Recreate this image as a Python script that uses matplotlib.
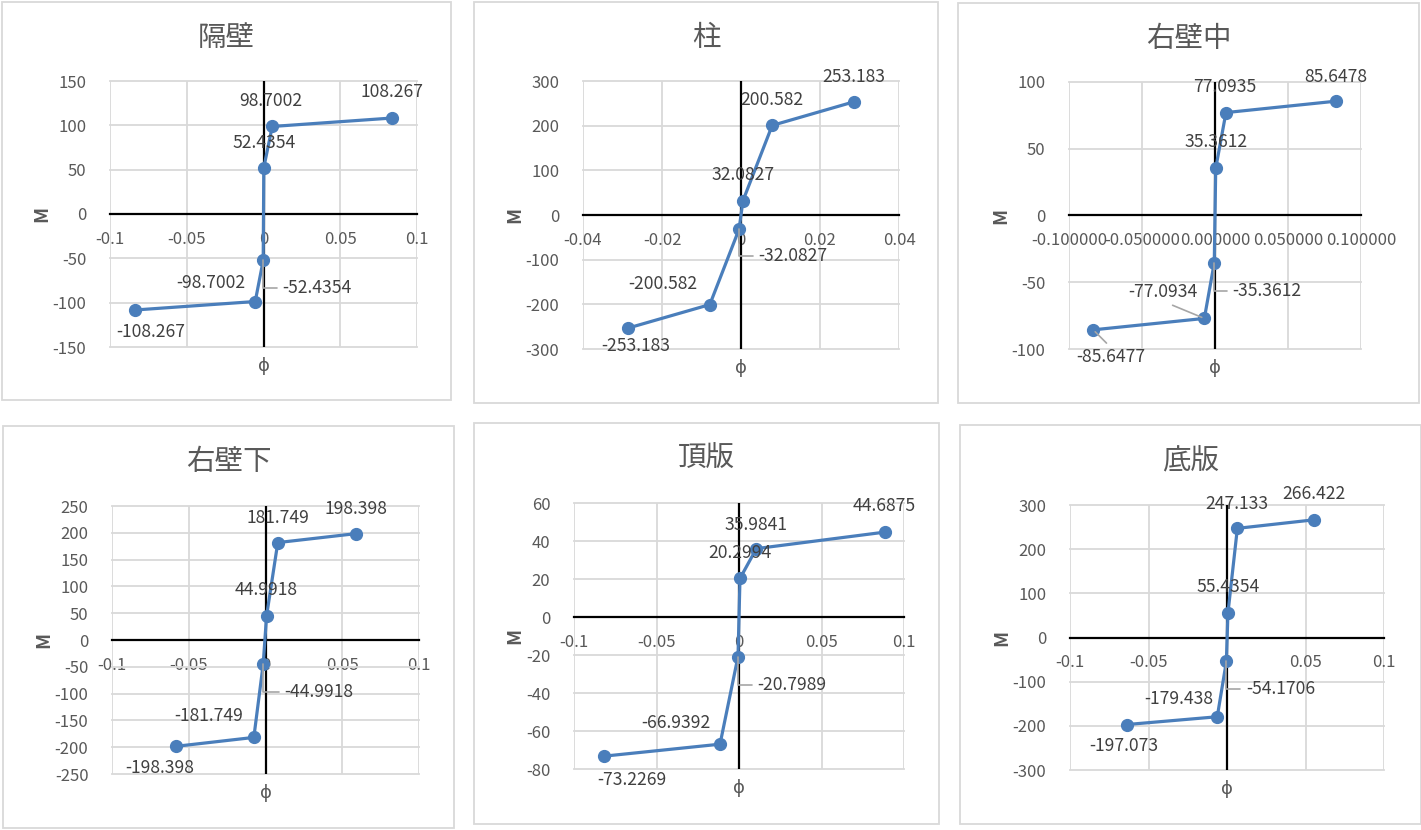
import matplotlib
matplotlib.use("Agg")
import matplotlib.pyplot as plt
from matplotlib.patches import Rectangle

plt.rcParams['font.family'] = ['Noto Sans CJK JP', 'DejaVu Sans']

# chart titles
titles = ["隔壁", "柱", "右壁中", "右壁下", "頂版", "底版"]

# curvature (phi)
phi_kabe = [-0.0837, -0.0054, -0.0002, 0.0002, 0.0057, 0.0839]
phi_hashira = [-0.0286, -0.0079, -0.0005, 0.0005, 0.0079, 0.0285]
phi_migichu = [-0.0834, -0.0073, -0.0005, 0.0005, 0.0075, 0.0830]
phi_migishita = [-0.0584, -0.0076, -0.0015, 0.0007, 0.0080, 0.0588]
phi_chouban = [-0.0816, -0.0115, -0.0006, 0.0006, 0.0105, 0.0885]
phi_teiban = [-0.0638, -0.0062, -0.0004, 0.0006, 0.0066, 0.0553]

# moment M (data labels)
m_kabe = [-108.267, -98.7002, -52.4354, 52.4354, 98.7002, 108.267]
m_hashira = [-253.183, -200.582, -32.0827, 32.0827, 200.582, 253.183]
m_migichu = [-85.6477, -77.0934, -35.3612, 35.3612, 77.0935, 85.6478]
m_migishita = [-198.398, -181.749, -44.9918, 44.9918, 181.749, 198.398]
m_chouban = [-73.2269, -66.9392, -20.7989, 20.2994, 35.9841, 44.6875]
m_teiban = [-197.073, -179.438, -54.1706, 55.4354, 247.133, 266.422]

# axis ticks
xticks_01 = [-0.1, -0.05, 0, 0.05, 0.1]
xticks_004 = [-0.04, -0.02, 0, 0.02, 0.04]
yticks_kabe = [-150, -100, -50, 0, 50, 100, 150]
yticks_300 = [-300, -200, -100, 0, 100, 200, 300]
yticks_migichu = [-100, -50, 0, 50, 100]
yticks_migishita = [-250, -200, -150, -100, -50, 0, 50, 100, 150, 200, 250]
yticks_chouban = [-80, -60, -40, -20, 0, 20, 40, 60]

phis = [phi_kabe, phi_hashira, phi_migichu, phi_migishita, phi_chouban, phi_teiban]
ms = [m_kabe, m_hashira, m_migichu, m_migishita, m_chouban, m_teiban]
xts = [xticks_01, xticks_004, xticks_01, xticks_01, xticks_01, xticks_01]
yts = [yticks_kabe, yticks_300, yticks_migichu, yticks_migishita, yticks_chouban, yticks_300]
xfmt = ["g", "g", ".6f", "g", "g", "g"]

W, H = 1421, 830
# chart boxes and plot areas in pixels (x0, y0, x1, y1) from top-left
boxes = [(2, 2, 451, 400), (474, 2, 938, 403), (958, 3, 1419, 403),
         (3, 426, 454, 828), (474, 423, 939, 824), (960, 425, 1421, 824)]
areas = [(110, 81, 417, 347), (583, 81, 899, 349), (1069, 82, 1361, 349),
         (112, 506, 419, 774), (574, 503, 904, 769), (1070, 505, 1384, 770)]

# label offsets in pixels (dx, dy) and leader style per point
offs = [
    [(16, -22, None), (-44, 19, None), (54, -28, "L"), (0, 25, None), (-1, 25, None), (0, 26, None)],
    [(8, -18, None), (-47, 21, None), (54, -27, "L"), (0, 26, None), (0, 25, None), (0, 25, None)],
    [(18, -27, "top"), (-41, 26, "bot"), (53, -28, "L"), (0, 26, None), (-1, 26, None), (0, 24, None)],
    [(-16, -22, None), (-45, 21, None), (56, -28, "L"), (0, 26, None), (0, 25, None), (0, 25, None)],
    [(28, -24, None), (-44, 21, None), (54, -28, "L"), (0, 25, None), (0, 24, None), (-1, 26, None)],
    [(-3, -21, None), (-39, 18, None), (54, -28, "L"), (0, 26, None), (0, 24, None), (0, 26, None)],
]

blue = '#4A7EBB'
grid_c = '#D9D9D9'
txt_c = '#595959'
lab_c = '#404040'
lead_c = '#A6A6A6'

fig = plt.figure(figsize=(W / 100, H / 100), dpi=100)

for i in range(6):
    bx = boxes[i]
    fig.patches.append(Rectangle((bx[0] / W, 1 - bx[3] / H), (bx[2] - bx[0]) / W, (bx[3] - bx[1]) / H,
                                 transform=fig.transFigure, fill=False, edgecolor=grid_c, lw=1.3))
    fig.text((bx[0] + bx[2]) / 2 / W, 1 - (bx[1] + 36) / H, titles[i], ha='center', va='center',
             fontsize=20.5, color=txt_c)

    a = areas[i]
    ax = fig.add_axes([a[0] / W, 1 - a[3] / H, (a[2] - a[0]) / W, (a[3] - a[1]) / H])
    xt, yt = xts[i], yts[i]
    ax.set_xlim(xt[0], xt[-1])
    ax.set_ylim(yt[0], yt[-1])
    ax.set_xticks(xt)
    ax.set_yticks(yt)
    ax.set_xticklabels([format(t, xfmt[i]) for t in xt])
    ax.set_yticklabels([f"{t:g}" for t in yt])
    ax.grid(True, color=grid_c, lw=1.3)
    ax.set_axisbelow(True)
    for gl in ax.get_xgridlines() + ax.get_ygridlines():
        gl.set_clip_on(False)
    for s in ['top', 'left', 'right']:
        ax.spines[s].set_visible(False)
    ax.spines['bottom'].set_position(('data', 0))
    ax.spines['bottom'].set_color('black')
    ax.spines['bottom'].set_linewidth(1.6)
    ax.axvline(0, color='black', lw=1.6, zorder=2)
    ax.tick_params(length=0, labelsize=12, labelcolor=txt_c)
    ax.tick_params(axis='x', pad=12)
    ax.tick_params(axis='y', pad=17)

    ax.plot(phis[i], ms[i], '-o', color=blue, lw=2.3, markersize=8.5, zorder=3, clip_on=False)

    for (x, y), (dx, dy, lead) in zip(zip(phis[i], ms[i]), offs[i]):
        props = None
        if lead == "L":
            props = dict(arrowstyle='-', color=lead_c, lw=1.2, relpos=(0, 0.5), shrinkA=2, shrinkB=0,
                         connectionstyle='angle,angleA=0,angleB=90,rad=0')
        elif lead == "bot":
            props = dict(arrowstyle='-', color=lead_c, lw=1.2, relpos=(0.5, 0), shrinkA=2, shrinkB=2)
        elif lead == "top":
            props = dict(arrowstyle='-', color=lead_c, lw=1.2, relpos=(0.5, 1), shrinkA=2, shrinkB=2)
        ax.annotate(f"{y:g}", xy=(x, y), xytext=(dx, dy), textcoords='offset pixels',
                    ha='center', va='center', fontsize=12.6, color=lab_c, arrowprops=props,
                    annotation_clip=False, zorder=4)

    ax.set_ylabel("M", fontsize=13.5, color=txt_c, fontweight='bold', labelpad=1)
    fig.text((a[0] + a[2]) / 2 / W, 1 - (a[3] + 19) / H, "ϕ", ha='center', va='center',
             fontsize=13, color=txt_c)

fig.savefig("out.png", dpi=100)
